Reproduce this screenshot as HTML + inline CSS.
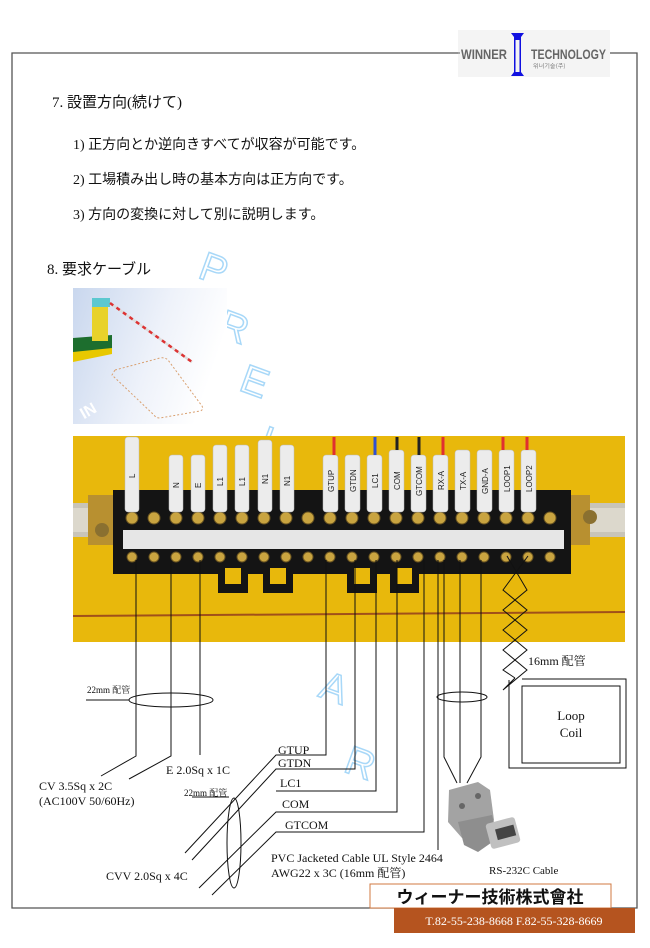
<!DOCTYPE html>
<html><head><meta charset="utf-8"><style>
html,body{margin:0;padding:0;background:#fff;width:650px;height:948px;overflow:hidden}
svg{display:block}
.s{font-family:"Liberation Serif","Noto Serif CJK SC","Noto Sans CJK JP",serif}
.j{font-family:"Liberation Serif","Noto Sans CJK JP",serif}
</style></head><body>
<svg width="650" height="948" viewBox="0 0 650 948" xmlns="http://www.w3.org/2000/svg">
<polyline points="460,53 12,53 12,908 637,908 637,53 608,53" fill="none" stroke="#555" stroke-width="1.3"/>
<rect x="458" y="30" width="152" height="47" fill="#f4f4f4"/>
<line x1="440" y1="53" x2="460" y2="53" stroke="#555"/>
<text x="461" y="59" font-family="Liberation Sans Narrow,Liberation Sans,sans-serif" font-weight="bold" font-size="14" fill="#666" textLength="46" lengthAdjust="spacingAndGlyphs">WINNER</text>
<text x="531" y="59" font-family="Liberation Sans Narrow,Liberation Sans,sans-serif" font-weight="bold" font-size="14" fill="#666" textLength="75" lengthAdjust="spacingAndGlyphs">TECHNOLOGY</text>
<text x="533" y="68" font-family="NanumGothic,sans-serif" font-size="6" fill="#666">위너기술(주)</text>
<path d="M511,33 L524,33 L521,37 L521,72 L524,76 L511,76 L514,72 L514,37 Z" fill="#1010e0"/>
<rect x="515.5" y="40" width="4" height="32" fill="#f4f4f4"/>
<g class="j" fill="#111">
<text x="52" y="107" font-size="15">7. 設置方向(続けて)</text>
<text x="73" y="149" font-size="14">1) 正方向とか逆向きすべてが収容が可能です。</text>
<text x="73" y="184" font-size="14">2) 工場積み出し時の基本方向は正方向です。</text>
<text x="73" y="219" font-size="14">3) 方向の変換に対して別に説明します。</text>
<text x="47" y="274" font-size="15">8. 要求ケーブル</text>
</g>
<g font-family="Liberation Sans,sans-serif" font-size="40" fill="none" stroke="#a8d8f8" stroke-width="1.5">
<text x="200" y="282" transform="rotate(20 212 270)">P</text>
<text x="220" y="340" transform="rotate(20 232 325)">R</text>
<text x="242" y="395" transform="rotate(20 255 380)">E</text>
<text x="262" y="455" transform="rotate(20 270 440)">L</text>
<text x="320" y="700" transform="rotate(20 330 690)">A</text>
<text x="345" y="775" transform="rotate(20 355 765)">R</text>
</g>
<defs>
<linearGradient id="tg" x1="0" y1="0" x2="1" y2="0.3"><stop offset="0" stop-color="#c9d7ee"/><stop offset="0.6" stop-color="#eef2fa"/><stop offset="1" stop-color="#fff"/></linearGradient>
</defs>
<rect x="73" y="288" width="154" height="136" fill="url(#tg)"/>
<path d="M115,370 L160,358 Q165,357 168,360 L202,406 Q204,410 200,411 L160,418 Q156,418 154,415 L112,375 Z" fill="none" stroke="#d9a070" stroke-dasharray="2,2"/>
<path d="M73,338 L112,335 L112,352 L73,360 Z" fill="#1d6e2e"/>
<path d="M73,352 L112,348 L112,354 L73,362 Z" fill="#e8c800"/>
<rect x="92" y="305" width="16" height="36" fill="#e8d22a"/>
<rect x="92" y="298" width="18" height="9" fill="#5cc8d0"/>
<line x1="110" y1="303" x2="192" y2="362" stroke="#ddd" stroke-width="2.5"/>
<line x1="110" y1="303" x2="192" y2="362" stroke="#d33" stroke-width="2.5" stroke-dasharray="4,4"/>
<text x="80" y="415" font-family="Liberation Sans,sans-serif" font-weight="bold" font-size="16" fill="#fff" transform="rotate(-30 90 410)">IN</text>
<rect x="73" y="436" width="552" height="206" fill="#e8b80c"/>
<line x1="73" y1="616" x2="625" y2="612" stroke="#a0501a" stroke-width="2"/>
<rect x="73" y="503" width="552" height="34" fill="#c8c4b8"/>
<rect x="73" y="508" width="552" height="24" fill="#dcd8cc"/>
<rect x="88" y="495" width="30" height="50" fill="#b89030"/>
<rect x="560" y="495" width="30" height="50" fill="#b89030"/>
<circle cx="590" cy="517" r="7" fill="#8a7030"/>
<circle cx="102" cy="530" r="7" fill="#8a7030"/>
<rect x="113" y="490" width="458" height="84" fill="#141414"/>
<rect x="123" y="530" width="441" height="19" fill="#e6e6e6"/>
<g fill="#141414">
<path d="M218,568 h30 v25 h-30 z"/><path d="M263,568 h30 v25 h-30 z"/>
<path d="M347,568 h30 v25 h-30 z"/><path d="M390,568 h29 v25 h-29 z"/>
</g>
<g fill="#e8b80c"><rect x="225" y="568" width="16" height="16"/><rect x="270" y="568" width="16" height="16"/><rect x="354" y="568" width="16" height="16"/><rect x="397" y="568" width="15" height="16"/></g>
<g fill="#c9a440" stroke="#6a5420" stroke-width="1">
<circle cx="132" cy="518" r="6"/><circle cx="154" cy="518" r="6"/><circle cx="176" cy="518" r="6"/><circle cx="198" cy="518" r="6"/><circle cx="220" cy="518" r="6"/><circle cx="242" cy="518" r="6"/><circle cx="264" cy="518" r="6"/><circle cx="286" cy="518" r="6"/><circle cx="308" cy="518" r="6"/><circle cx="330" cy="518" r="6"/><circle cx="352" cy="518" r="6"/><circle cx="374" cy="518" r="6"/><circle cx="396" cy="518" r="6"/><circle cx="418" cy="518" r="6"/><circle cx="440" cy="518" r="6"/><circle cx="462" cy="518" r="6"/><circle cx="484" cy="518" r="6"/><circle cx="506" cy="518" r="6"/><circle cx="528" cy="518" r="6"/><circle cx="550" cy="518" r="6"/>
<circle cx="132" cy="557" r="5"/><circle cx="154" cy="557" r="5"/><circle cx="176" cy="557" r="5"/><circle cx="198" cy="557" r="5"/><circle cx="220" cy="557" r="5"/><circle cx="242" cy="557" r="5"/><circle cx="264" cy="557" r="5"/><circle cx="286" cy="557" r="5"/><circle cx="308" cy="557" r="5"/><circle cx="330" cy="557" r="5"/><circle cx="352" cy="557" r="5"/><circle cx="374" cy="557" r="5"/><circle cx="396" cy="557" r="5"/><circle cx="418" cy="557" r="5"/><circle cx="440" cy="557" r="5"/><circle cx="462" cy="557" r="5"/><circle cx="484" cy="557" r="5"/><circle cx="506" cy="557" r="5"/><circle cx="528" cy="557" r="5"/><circle cx="550" cy="557" r="5"/>
</g>
<g fill="#ececec" stroke="#bbb" stroke-width="0.5">
<rect x="125" y="437" width="14" height="75" rx="3"/><rect x="169" y="455" width="14" height="57" rx="3"/><rect x="191" y="455" width="14" height="57" rx="3"/><rect x="213" y="445" width="14" height="67" rx="3"/><rect x="235" y="445" width="14" height="67" rx="3"/><rect x="258" y="440" width="14" height="72" rx="3"/><rect x="280" y="445" width="14" height="67" rx="3"/>
<rect x="323" y="455" width="15" height="57" rx="3"/><rect x="345" y="455" width="15" height="57" rx="3"/><rect x="367" y="455" width="15" height="57" rx="3"/><rect x="389" y="450" width="15" height="62" rx="3"/><rect x="411" y="455" width="15" height="57" rx="3"/><rect x="433" y="455" width="15" height="57" rx="3"/><rect x="455" y="450" width="15" height="62" rx="3"/><rect x="477" y="450" width="15" height="62" rx="3"/><rect x="499" y="450" width="15" height="62" rx="3"/><rect x="521" y="450" width="15" height="62" rx="3"/>
</g>
<g stroke-width="3"><line x1="334" y1="437" x2="334" y2="455" stroke="#e03030"/><line x1="375" y1="437" x2="375" y2="455" stroke="#3050d0"/><line x1="397" y1="437" x2="397" y2="450" stroke="#222"/><line x1="419" y1="437" x2="419" y2="455" stroke="#222"/><line x1="443" y1="437" x2="443" y2="455" stroke="#e03030"/><line x1="503" y1="437" x2="503" y2="450" stroke="#e03030"/><line x1="527" y1="437" x2="527" y2="450" stroke="#e03030"/></g>
<g font-family="Liberation Sans,sans-serif" font-size="8" fill="#222">
<text transform="translate(135,478) rotate(-90)">L</text><text transform="translate(179,488) rotate(-90)">N</text><text transform="translate(201,488) rotate(-90)">E</text><text transform="translate(223,486) rotate(-90)">L1</text><text transform="translate(245,486) rotate(-90)">L1</text><text transform="translate(268,484) rotate(-90)">N1</text><text transform="translate(290,486) rotate(-90)">N1</text>
<text transform="translate(334,492) rotate(-90)">GTUP</text><text transform="translate(356,492) rotate(-90)">GTDN</text><text transform="translate(378,488) rotate(-90)">LC1</text><text transform="translate(400,490) rotate(-90)">COM</text><text transform="translate(422,496) rotate(-90)">GTCOM</text><text transform="translate(444,490) rotate(-90)">RX-A</text><text transform="translate(466,490) rotate(-90)">TX-A</text><text transform="translate(488,494) rotate(-90)">GND-A</text><text transform="translate(510,492) rotate(-90)">LOOP1</text><text transform="translate(532,492) rotate(-90)">LOOP2</text>
</g>
<g fill="none" stroke="#111" stroke-width="1">
<polyline points="136,560 136,756 101,776"/>
<polyline points="171,560 171,756 129,779"/>
<line x1="200" y1="560" x2="200" y2="755"/>
<polyline points="326,560 326,755 276,755 185,853"/>
<polyline points="355,560 355,769 276,769 192,860"/>
<polyline points="376,560 376,791 276,791"/>
<polyline points="397,560 397,812 276,812 199,888"/>
<polyline points="424,560 424,832 276,832 212,895"/>
<line x1="438" y1="560" x2="438" y2="850"/>
<polyline points="444,560 444,757 457,783"/>
<polyline points="460,560 460,783"/>
<polyline points="481,560 481,757 467,783"/>
<polyline points="507,556 527,590 503,610 527,630 503,650 527,670 503,690 515,678"/>
<polyline points="528,556 503,590 527,610 503,630 527,650 503,670 515,678"/>
<polyline points="509,680 509,768 626,768 626,679 522,679"/>
<rect x="522" y="686" width="98" height="77"/>
<ellipse cx="171" cy="700" rx="42" ry="7"/>
<line x1="86" y1="700" x2="129" y2="700"/>
<ellipse cx="462" cy="697" rx="25" ry="5"/>
<ellipse cx="234" cy="843" rx="7" ry="45"/>
<line x1="192" y1="797" x2="229" y2="797"/>
</g>
<g class="s" fill="#111">
<text x="87" y="693" font-size="9">22mm 配管</text>
<text x="184" y="796" font-size="9">22mm 配管</text>
<text x="39" y="790" font-size="12">CV 3.5Sq x 2C</text>
<text x="39" y="805" font-size="12">(AC100V 50/60Hz)</text>
<text x="166" y="774" font-size="12">E 2.0Sq x 1C</text>
<text x="278" y="754" font-size="12">GTUP</text>
<text x="278" y="767" font-size="12">GTDN</text>
<text x="280" y="787" font-size="12">LC1</text>
<text x="282" y="808" font-size="12">COM</text>
<text x="285" y="829" font-size="12">GTCOM</text>
<text x="106" y="880" font-size="12">CVV 2.0Sq x 4C</text>
<text x="271" y="862" font-size="12">PVC Jacketed Cable UL Style 2464</text>
<text x="271" y="877" font-size="12">AWG22 x 3C (16mm 配管)</text>
<text x="528" y="665" font-size="12">16mm 配管</text>
<text x="571" y="720" font-size="13" text-anchor="middle">Loop</text>
<text x="571" y="737" font-size="13" text-anchor="middle">Coil</text>
<text x="489" y="874" font-size="11">RS-232C Cable</text>
</g>
<path d="M449,790 L478,782 L490,790 L494,820 L488,834 L462,838 L448,822 Z" fill="#a3a3a3"/>
<path d="M458,822 L492,815 L498,838 L478,852 L464,845 Z" fill="#8e8e8e"/>
<rect x="488" y="820" width="30" height="26" rx="3" fill="#c0c0c0" transform="rotate(-15 503 833)"/>
<rect x="496" y="827" width="19" height="11" fill="#444" transform="rotate(-15 505 832)"/>
<circle cx="478" cy="796" r="3" fill="#666"/><circle cx="462" cy="806" r="3" fill="#666"/>
<rect x="370" y="884" width="241" height="24" fill="#fff" stroke="#d07840" stroke-width="1"/>
<text x="490" y="903" text-anchor="middle" font-family="Liberation Sans,Noto Sans CJK JP,sans-serif" font-weight="bold" font-size="17" fill="#111">ウィーナー技術株式會社</text>
<rect x="394" y="908" width="241" height="25" fill="#b5541f"/>
<text x="514" y="925" text-anchor="middle" font-family="Liberation Serif,serif" font-size="12" fill="#fff">T.82-55-238-8668 F.82-55-328-8669</text>
</svg>
</body></html>
